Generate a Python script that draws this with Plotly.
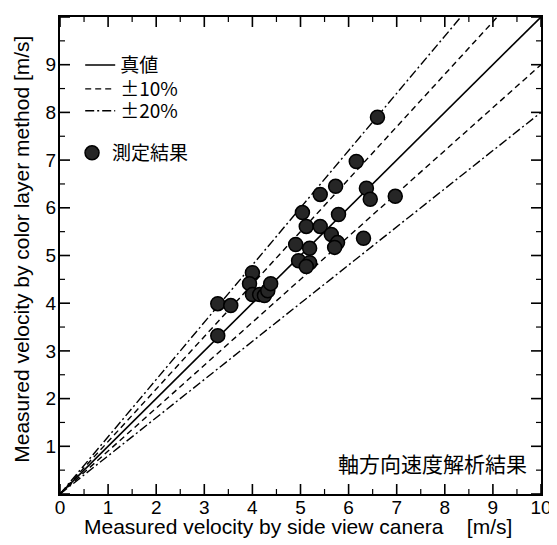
import plotly.graph_objects as go

# measured data (side view camera vs color layer method) [m/s]
x_side = [3.28, 3.55, 3.28, 4.00, 3.94, 4.00, 4.15, 4.25, 4.32, 4.38,
          4.90, 4.96, 5.19, 5.19, 5.12, 5.04, 5.12, 5.41, 5.41, 5.64,
          5.73, 5.79, 5.77, 5.71, 6.16, 6.37, 6.45, 6.31, 6.60, 6.97]
y_color = [3.99, 3.95, 3.32, 4.64, 4.41, 4.18, 4.18, 4.16, 4.26, 4.41,
           5.23, 4.89, 5.15, 4.85, 4.77, 5.90, 5.61, 6.28, 5.61, 5.44,
           6.45, 5.86, 5.27, 5.17, 6.97, 6.41, 6.18, 5.36, 7.90, 6.24]

line_x = [0, 10]
ratio_true = 1.0
ratio_10 = [1.1, 0.9]
ratio_20 = [1.2, 0.8]

tick_vals = list(range(0, 11))
minor_vals = [v + 0.5 for v in tick_vals[:-1]]
x_tick_text = [str(v) for v in tick_vals]
y_tick_text = [""] + [str(v) for v in tick_vals[1:]]

JP = "Noto Sans CJK JP"
EN = "Liberation Sans, Arial, sans-serif"

fig = go.Figure()

fig.add_trace(go.Scatter(x=line_x, y=[v * ratio_true for v in line_x], mode="lines",
                         line=dict(color="black", width=1.6), name="真値",
                         legend="legend"))
for i, r in enumerate(ratio_10):
    fig.add_trace(go.Scatter(x=line_x, y=[v * r for v in line_x], mode="lines",
                             line=dict(color="black", width=1.4, dash="6px,4px"),
                             name="±10%", showlegend=(i == 0), legend="legend2"))
for i, r in enumerate(ratio_20):
    fig.add_trace(go.Scatter(x=line_x, y=[v * r for v in line_x], mode="lines",
                             line=dict(color="black", width=1.4, dash="9px,3px,2px,3px"),
                             name="±20%", showlegend=(i == 0), legend="legend3"))

fig.add_trace(go.Scatter(x=x_side, y=y_color, mode="markers",
                         marker=dict(size=14, color="#262626",
                                     line=dict(color="black", width=1.5)),
                         name="測定結果", legend="legend4"))

major = dict(
    range=[0, 10], tickmode="array", tickvals=tick_vals,
    ticks="", showline=True, linecolor="black", linewidth=2, mirror=True,
    showgrid=False, zeroline=False,
    tickfont=dict(family=EN, size=19, color="black"),
)

# inward tick marks on all four sides (sizes in pixels, positions on the axis scales)
tick_shapes = []
for vals, length, width in [(tick_vals, 10, 1.6), (minor_vals, 5, 1.2)]:
    for v in vals:
        ln = dict(color="black", width=width)
        # bottom and top (x axis scale)
        tick_shapes.append(dict(type="line", xref="x", yref="paper", x0=v, x1=v,
                                ysizemode="pixel", yanchor=0, y0=0, y1=length,
                                line=ln, layer="above"))
        tick_shapes.append(dict(type="line", xref="x", yref="paper", x0=v, x1=v,
                                ysizemode="pixel", yanchor=1, y0=0, y1=-length,
                                line=ln, layer="above"))
        # left and right (y axis scale)
        tick_shapes.append(dict(type="line", xref="paper", yref="y", y0=v, y1=v,
                                xsizemode="pixel", xanchor=0, x0=0, x1=length,
                                line=ln, layer="above"))
        tick_shapes.append(dict(type="line", xref="paper", yref="y", y0=v, y1=v,
                                xsizemode="pixel", xanchor=1, x0=0, x1=-length,
                                line=ln, layer="above"))

def leg(x, y):
    return dict(x=x, y=y, xanchor="left", yanchor="middle",
                bgcolor="rgba(0,0,0,0)", borderwidth=0,
                font=dict(family=JP, size=19, color="black"))

# the page body has an 8px margin, so the figure is 549x537 drawn at (8, 8)
fig.update_layout(
    template="none",
    width=549, height=537,
    margin=dict(l=52, r=16, t=9, b=51),
    showlegend=True,
    legend=leg(0.042, 0.899), legend2=leg(0.042, 0.849),
    legend3=leg(0.042, 0.803), legend4=leg(0.025, 0.715),
    xaxis=dict(**major, ticktext=x_tick_text, ticklabelstandoff=-5),
    yaxis=dict(**major, ticktext=y_tick_text, ticklabelstandoff=-2),
    shapes=tick_shapes,
    annotations=[
        dict(text="Measured velocity by side view canera&nbsp;&nbsp;&nbsp;&nbsp;[m/s]",
             xref="paper", yref="paper", x=0.495, y=0, xanchor="center", yanchor="middle",
             yshift=-32, showarrow=False, font=dict(family=EN, size=21, color="black")),
        dict(text="Measured velocity by color layer method [m/s]",
             xref="paper", yref="paper", x=0, y=0.512, xanchor="center", yanchor="middle",
             xshift=-38, textangle=-90, showarrow=False,
             font=dict(family=EN, size=21, color="black")),
        dict(text="軸方向速度解析結果", xref="paper", yref="paper",
             x=0.975, y=0.065, xanchor="right", yanchor="middle",
             showarrow=False, font=dict(family=JP, size=21, color="black")),
    ],
)

fig.write_html("out.html")
